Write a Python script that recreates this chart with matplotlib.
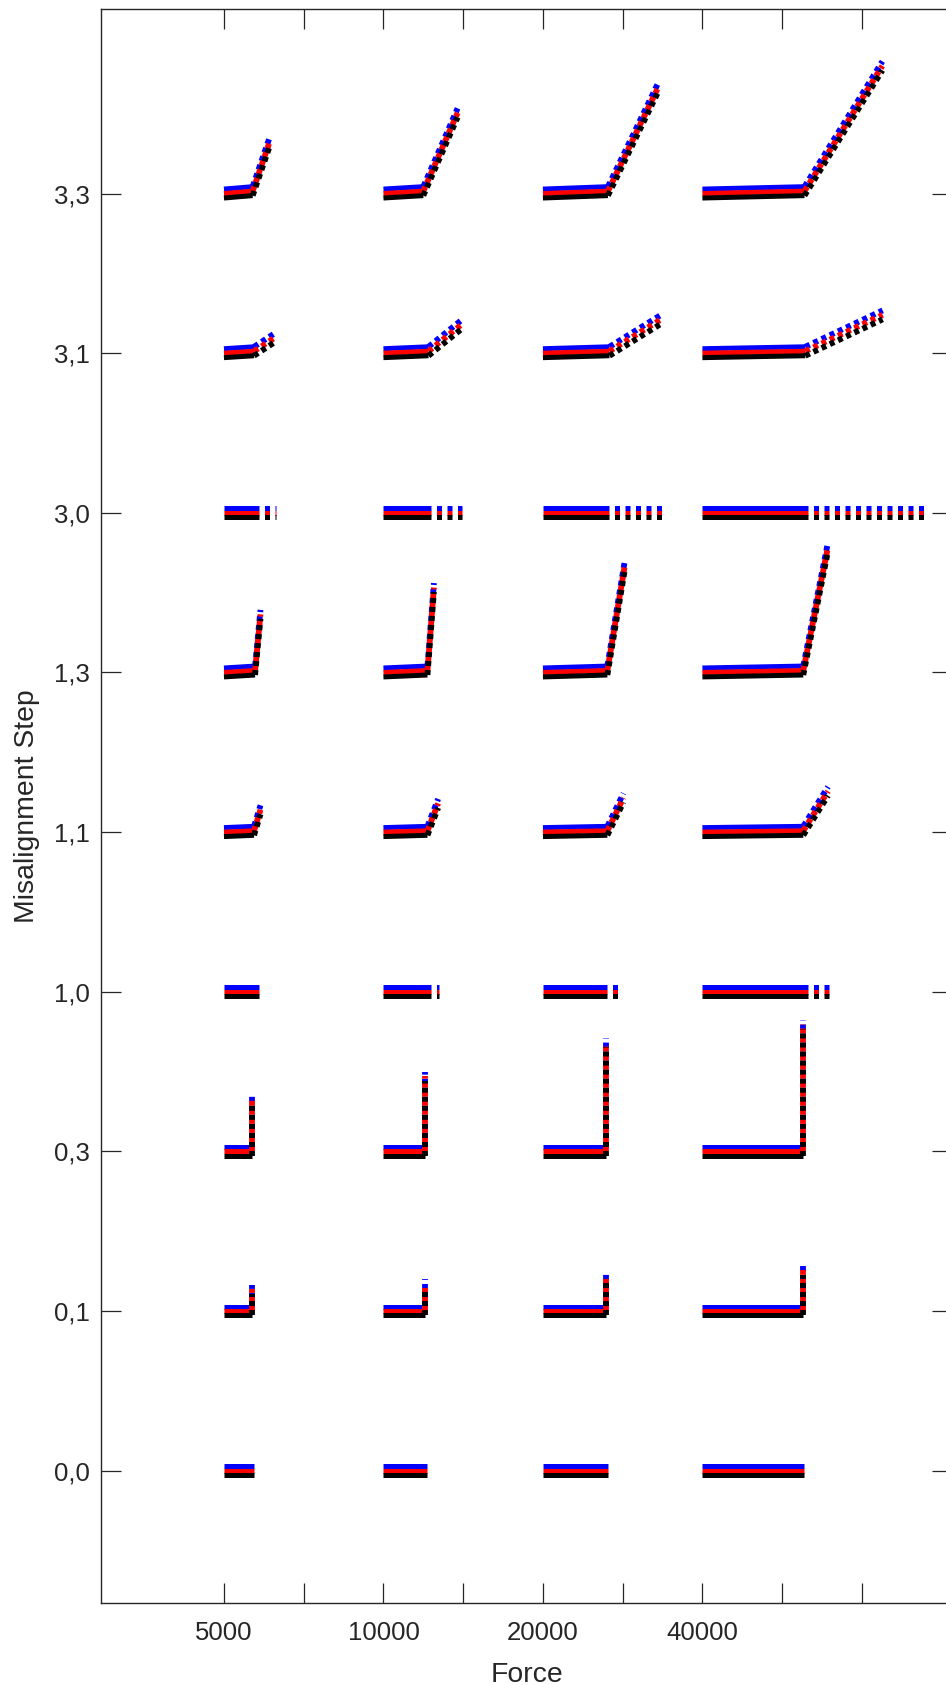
import matplotlib
matplotlib.use('Agg')
import matplotlib.pyplot as plt

# force blocks along x, misalignment steps along y
force_labels = ['5000', '10000', '20000', '40000']
step_labels = ['0,0', '0,1', '0,3', '1,0', '1,1', '1,3', '3,0', '3,1', '3,3']

# per step: length of the flat stretch for each force block
flat_len = {
    '0,0': [0.376, 0.55, 0.81, 1.28],
    '0,1': [0.357, 0.52, 0.796, 1.266],
    '0,3': [0.357, 0.52, 0.796, 1.266],
    '1,0': [0.44, 0.60, 0.80, 1.33],
    '1,1': [0.377, 0.552, 0.808, 1.265],
    '1,3': [0.39, 0.552, 0.808, 1.265],
    '3,0': [0.44, 0.60, 0.83, 1.32],
    '3,1': [0.377, 0.565, 0.834, 1.29],
    '3,3': [0.36, 0.50, 0.815, 1.28],
}
# slight rise at the end of the flat stretch
knee_lift = {
    '0,0': [0, 0, 0, 0],
    '0,1': [0, 0, 0, 0],
    '0,3': [0, 0, 0, 0],
    '1,0': [0, 0, 0, 0],
    '1,1': [0.008, 0.008, 0.008, 0.008],
    '1,3': [0.012, 0.012, 0.012, 0.012],
    '3,0': [0, 0, 0, 0],
    '3,1': [0.012, 0.012, 0.012, 0.012],
    '3,3': [0.015, 0.015, 0.015, 0.015],
}
# last point of each run, measured from the start of the block
end_dx = {
    '0,0': [0.376, 0.55, 0.81, 1.28],
    '0,1': [0.357, 0.52, 0.796, 1.266],
    '0,3': [0.357, 0.52, 0.796, 1.266],
    '1,0': [0.44, 0.70, 0.99, 1.59],
    '1,1': [0.458, 0.686, 1.01, 1.575],
    '1,3': [0.458, 0.633, 1.023, 1.575],
    '3,0': [0.65, 0.99, 1.52, 2.83],
    '3,1': [0.646, 0.98, 1.507, 2.26],
    '3,3': [0.577, 0.93, 1.455, 2.257],
}
end_dy = {
    '0,0': [0, 0, 0, 0],
    '0,1': [0.135, 0.17, 0.21, 0.255],
    '0,3': [0.33, 0.47, 0.68, 0.795],
    '1,0': [0, 0, 0, 0],
    '1,1': [0.14, 0.18, 0.215, 0.256],
    '1,3': [0.364, 0.532, 0.66, 0.788],
    '3,0': [0, 0, 0, 0],
    '3,1': [0.10, 0.18, 0.22, 0.24],
    '3,3': [0.33, 0.506, 0.675, 0.80],
}

series_colors = ['#0000ff', '#ff0000', '#000000']
series_shift = [0.028, 0.0, -0.028]

plt.rcParams['font.family'] = ['Liberation Sans', 'DejaVu Sans']
axis_col = '#262626'

fig = plt.figure(figsize=(9.46, 16.85), dpi=100)
ax = fig.add_axes([101 / 946, 1 - 1603 / 1685, 851 / 946, 1594 / 1685])

lw = 3.6        # flat runs
lw_rise = 4.2   # dotted rising runs
for j, step in enumerate(step_labels):
    for i in range(len(force_labels)):
        x0 = 1 + 2 * i
        xk = x0 + flat_len[step][i]
        yk = j + knee_lift[step][i]
        xe = x0 + end_dx[step][i]
        ye = j + end_dy[step][i]
        flat_tail = end_dy[step][i] == 0
        for col, sh in zip(series_colors, series_shift):
            ax.plot([x0, xk], [j + sh, yk + sh], color=col, lw=lw,
                    solid_capstyle='butt')
            if xe > xk or ye > yk:
                if flat_tail:
                    ax.plot([xk, xe], [yk + sh, ye + sh], color=col, lw=lw,
                            linestyle=(1.0, (1.0, 1.1)), dash_capstyle='butt')
                else:
                    ax.plot([xk, xe], [yk + sh, ye + sh], color=col,
                            lw=lw_rise, linestyle=(0, (0.85, 0.7)),
                            dash_capstyle='butt')

ax.set_xlim(-0.542, 10.13)
ax.set_ylim(-0.829, 9.156)
ax.set_xticks(range(1, 10))
xlabels = ['' for _ in range(9)]
for i, f in enumerate(force_labels):
    xlabels[2 * i] = f
ax.set_xticklabels(xlabels)
ax.set_yticks(range(len(step_labels)))
ax.set_yticklabels(step_labels)

ax.tick_params(direction='in', length=14.4, width=0.9, color=axis_col,
               labelcolor=axis_col, labelsize=18.5, top=True, right=True)
ax.tick_params(axis='x', pad=13)
ax.tick_params(axis='y', pad=8)
for sp in ax.spines.values():
    sp.set_color(axis_col)
    sp.set_linewidth(1.0)

ax.set_xlabel('Force', fontsize=20.4, color=axis_col, labelpad=12)
ax.set_ylabel('Misalignment Step', fontsize=20.4, color=axis_col, labelpad=10)

fig.savefig('out.png', dpi=100)
